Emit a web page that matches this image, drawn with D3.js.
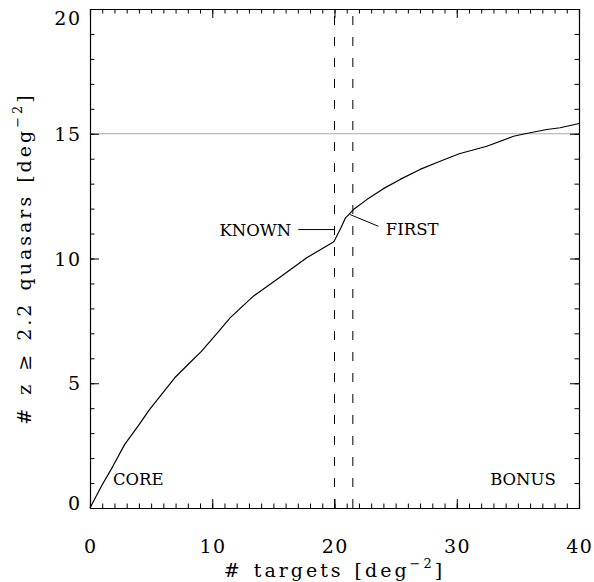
<!DOCTYPE html>
<html>
<head>
<meta charset="utf-8">
<script src="https://cdn.jsdelivr.net/npm/d3@7"></script>
<style>
  body { margin: 0; background: #fff; }
  svg text { font-family: "DejaVu Serif", serif; fill: #000; }
</style>
</head>
<body>
<script>
// quasars recovered vs. targets
var targets = [0, 0.93, 1.88, 2.84, 3.93, 4.88, 5.97, 6.93, 8.02, 9.11, 10.3, 11.46,
               13.36, 15.28, 17.73, 19.91, 20.0, 20.5, 20.9, 21.3, 21.55, 22.64, 24.0,
               25.37, 27.0, 28.64, 30.2, 32.46, 34.64, 36.0, 37.37, 38.46, 40.0];
var quasars = [0, 0.87, 1.68, 2.55, 3.28, 3.95, 4.62, 5.22, 5.75, 6.28, 6.95, 7.62,
               8.49, 9.16, 10.03, 10.66, 10.72, 11.2, 11.63, 11.83, 11.96, 12.36, 12.8,
               13.17, 13.57, 13.9, 14.2, 14.5, 14.9, 15.04, 15.17, 15.24, 15.41];

var xTicks = [0, 10, 20, 30, 40];
var yTicks = [0, 5, 10, 15, 20];
var cuts = [20, 21.5];       // dashed verticals
var goal = 15;               // grey horizontal

var labels = [
  {text: "CORE", x: 1.88, y: 1.18, anchor: "start"},
  {text: "BONUS", x: 38.1, y: 1.18, anchor: "end"},
  {text: "KNOWN", x: 16.45, y: 11.16, anchor: "end"},
  {text: "FIRST", x: 24.2, y: 11.2, anchor: "start"}
];
var leaders = [
  [[17.04, 11.16], [20.05, 11.16]],
  [[21.28, 11.76], [23.6, 11.29]]
];

var width = 594, height = 582;
var margin = {top: 9, right: 15, bottom: 74, left: 90};
var w = width - margin.left - margin.right,
    h = height - margin.top - margin.bottom;

var svg = d3.select("body").append("svg")
    .attr("width", width)
    .attr("height", height);

var g = svg.append("g")
    .attr("transform", "translate(" + margin.left + "," + margin.top + ")");

var x = d3.scaleLinear().domain([0, 40]).range([0, w]);
var y = d3.scaleLinear().domain([0, 20]).range([h, 0]);

// grey line at 15
g.append("line")
    .attr("x1", 0).attr("x2", w)
    .attr("y1", y(goal)).attr("y2", y(goal))
    .attr("stroke", "#aaa").attr("stroke-width", 1.2);

// dashed cuts
g.selectAll(".cut").data(cuts).enter().append("line")
    .attr("class", "cut")
    .attr("x1", d => x(d)).attr("x2", d => x(d))
    .attr("y1", 0).attr("y2", h)
    .attr("stroke", "#000").attr("stroke-width", 1)
    .attr("stroke-dasharray", "9,12")
    .attr("stroke-dashoffset", -7);

// axes, ticks on all four sides
function axisSet(axis, scale, major, minorStep, tr) {
  var minor = d3.range(scale.domain()[0], scale.domain()[1] + 0.001, minorStep);
  var ga = g.append("g").attr("transform", tr);
  ga.append("g").call(axis(scale).tickValues(minor).tickSize(4.5).tickFormat(""));
  ga.append("g").call(axis(scale).tickValues(major).tickSize(9).tickFormat(""));
  ga.selectAll("path.domain").attr("stroke", "#000").attr("stroke-width", 1.1);
  ga.selectAll(".tick line").attr("stroke", "#000").attr("stroke-width", 1);
  return ga;
}
axisSet(d3.axisTop, x, xTicks, 1, "translate(0," + h + ")");
axisSet(d3.axisBottom, x, xTicks, 1, "translate(0,0)");
axisSet(d3.axisRight, y, yTicks, 1, "translate(0,0)");
axisSet(d3.axisLeft, y, yTicks, 1, "translate(" + w + ",0)");

// tick labels
g.selectAll(".xl").data(xTicks).enter().append("text")
    .attr("x", d => x(d) + 0.75).attr("y", h + 45)
    .attr("text-anchor", "middle")
    .style("font-size", "19px").style("letter-spacing", "1.5px")
    .text(d => d);
g.selectAll(".yl").data(yTicks).enter().append("text")
    .attr("x", -8.5).attr("y", d => Math.min(Math.max(y(d), 9), h - 5) + 7)
    .attr("text-anchor", "end")
    .style("font-size", "19px").style("letter-spacing", "1.5px")
    .text(d => d);

// curve
var line = d3.line().x(d => x(d[0])).y(d => y(d[1]));
g.append("path")
    .datum(d3.zip(targets, quasars))
    .attr("d", line)
    .attr("fill", "none")
    .attr("stroke", "#000")
    .attr("stroke-width", 1.2)
    .attr("stroke-linejoin", "round");

// annotations
g.selectAll(".lead").data(leaders).enter().append("path")
    .attr("d", line)
    .attr("fill", "none").attr("stroke", "#000").attr("stroke-width", 1);
g.selectAll(".lab").data(labels).enter().append("text")
    .attr("x", d => x(d.x)).attr("y", d => y(d.y) + 6)
    .attr("text-anchor", d => d.anchor)
    .style("font-size", "16.5px")
    .text(d => d.text);

// axis titles
function title(sel, txt) {
  sel.attr("text-anchor", "middle")
     .style("font-size", "19px")
     .style("letter-spacing", "3px")
     .style("word-spacing", "2px");
  sel.append("tspan").text(txt);
  sel.append("tspan").attr("dy", -9).style("font-size", "13px").text("−2");
  sel.append("tspan").attr("dy", 9).text("]");
}
title(svg.append("text")
    .attr("x", margin.left + w / 2).attr("y", 577), "# targets [deg");
title(svg.append("text")
    .attr("transform", "translate(31," + (margin.top + h / 2) + ") rotate(-90)"),
    "# z ≥ 2.2 quasars [deg");
</script>
</body>
</html>
